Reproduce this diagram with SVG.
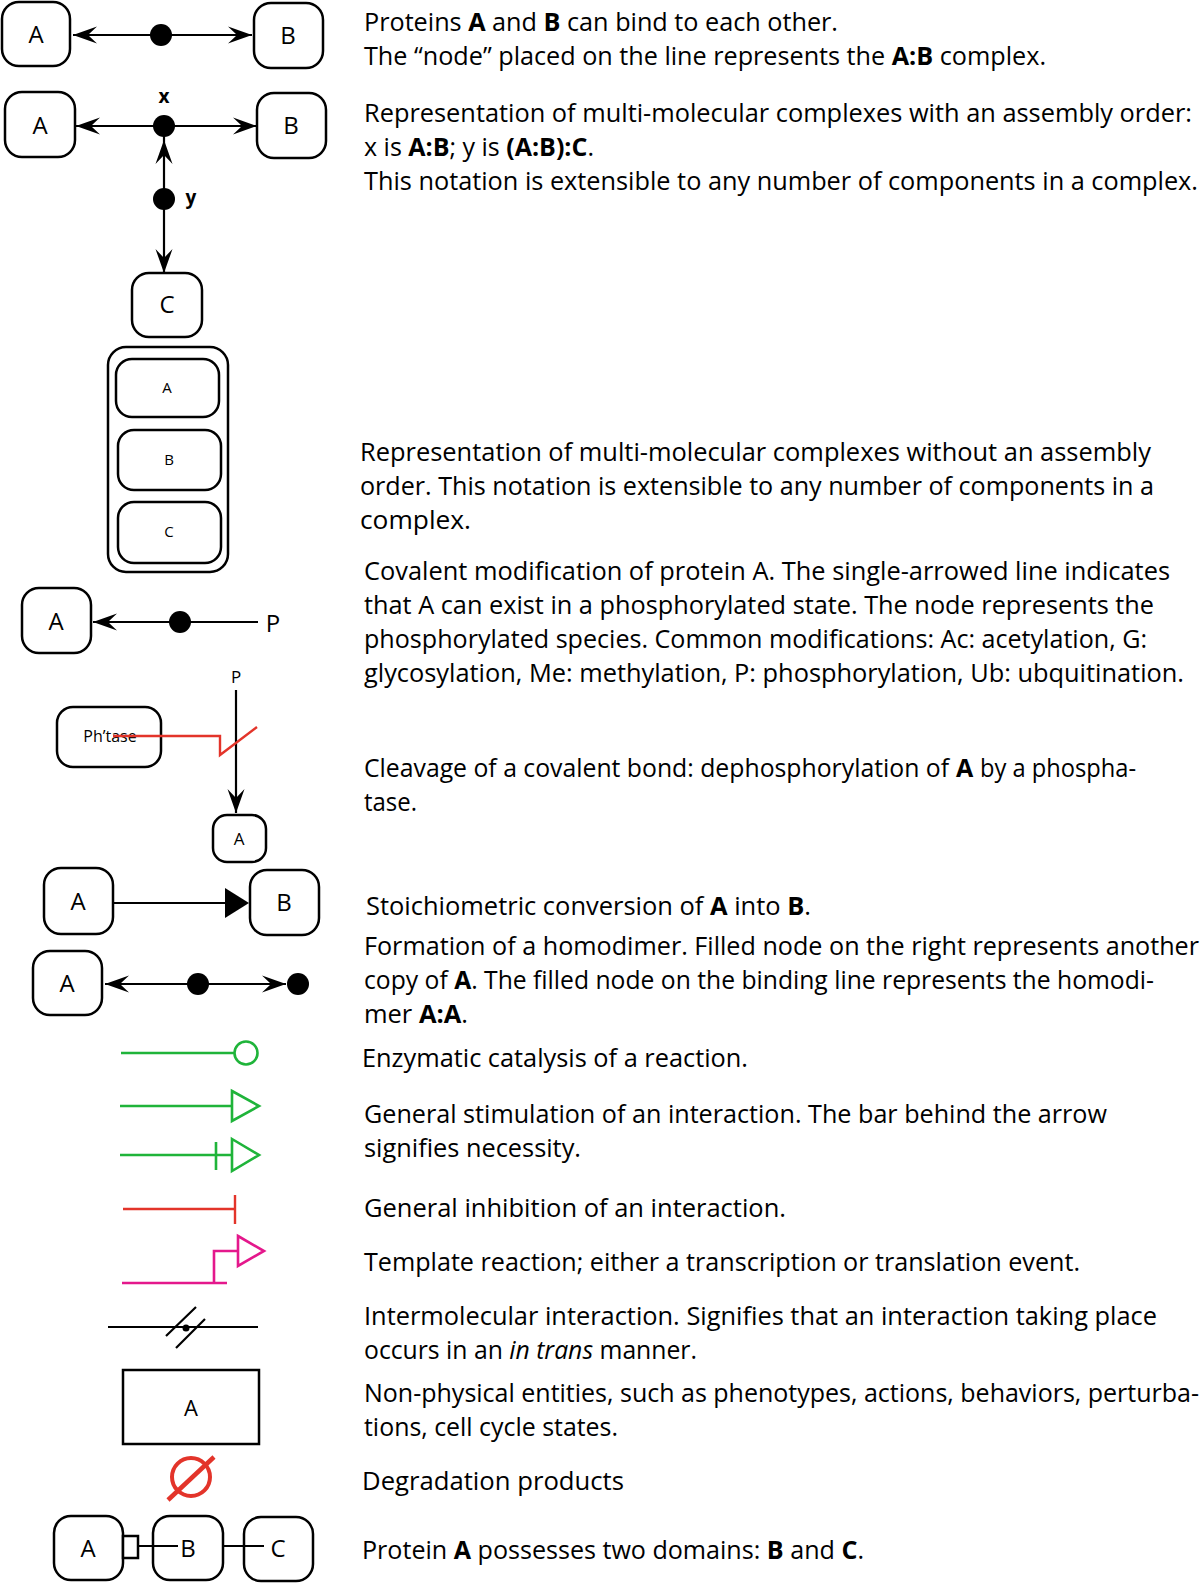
<svg xmlns="http://www.w3.org/2000/svg" width="1200" height="1583" viewBox="0 0 1200 1583">
<style>
.bx{fill:#fff;stroke:#000;stroke-width:2.5}
.ln{fill:none;stroke:#000;stroke-width:2.2}
.g{fill:none;stroke:#1fb43a;stroke-width:2.6}
.r{fill:none;stroke:#e3342a;stroke-width:2.4}
.m{fill:none;stroke:#e4188c;stroke-width:2.6}
.dot{fill:#000}
.lab{font-family:"Open Sans","Noto Sans",sans-serif;font-size:24px;fill:#000;text-anchor:middle}
.sm{font-family:"Open Sans","Noto Sans",sans-serif;font-size:15px;fill:#000;text-anchor:middle}
.t{font-family:"Open Sans","Noto Sans",sans-serif;font-size:25px;fill:#000}
.b{font-weight:700}
.i{font-style:italic}
</style>
<defs>
<marker id="arr" viewBox="-26 -10 28 20" refX="0" refY="0" markerWidth="28" markerHeight="20" markerUnits="userSpaceOnUse" orient="auto-start-reverse">
<path d="M0,0 L-24,-8.5 L-15,0 L-24,8.5 Z" fill="#000"/>
</marker>
</defs>

<g id="n-binding">
<rect class="bx" x="2" y="2" width="68" height="64" rx="17"/>
<text class="lab" x="36" y="43">A</text>
<rect class="bx" x="254" y="3" width="69" height="65" rx="17"/>
<text class="lab" x="288" y="44">B</text>
<circle class="dot" cx="161" cy="35" r="11"/>
</g>

<g id="n-ordered">
<rect class="bx" x="5" y="92" width="70" height="65" rx="17"/>
<text class="lab" x="40" y="134">A</text>
<rect class="bx" x="257" y="93" width="69" height="65" rx="17"/>
<text class="lab" x="291" y="134">B</text>
<circle class="dot" cx="164" cy="126" r="11"/>
<text class="lab b" x="164" y="103" style="font-size:19px">x</text>
<circle class="dot" cx="164" cy="199" r="11"/>
<text class="lab b" x="191" y="204" style="font-size:19px">y</text>
<rect class="bx" x="132" y="273" width="70" height="64" rx="17"/>
<text class="lab" x="167" y="313">C</text>
</g>

<g id="n-unordered">
<rect class="bx" x="108" y="347" width="120" height="225" rx="18"/>
<rect class="bx" x="116" y="359" width="103" height="58" rx="16"/>
<text class="sm" x="167" y="393">A</text>
<rect class="bx" x="118" y="430" width="103" height="60" rx="16"/>
<text class="sm" x="169" y="465">B</text>
<rect class="bx" x="118" y="502" width="103" height="61" rx="16"/>
<text class="sm" x="169" y="537">C</text>
</g>

<g id="n-phospho">
<rect class="bx" x="22" y="588" width="69" height="65" rx="17"/>
<text class="lab" x="56" y="630">A</text>
<circle class="dot" cx="180" cy="622" r="11"/>
<text class="lab" x="273" y="632">P</text>
</g>

<g id="n-phosphatase">
<text class="sm" x="236" y="683" style="font-size:17px">P</text>
<rect class="bx" x="57" y="707" width="104" height="60" rx="16"/>
<text class="sm" x="110" y="742" style="font-size:16px">Ph’tase</text>
<rect class="bx" x="213" y="815" width="53" height="47" rx="14"/>
<text class="sm" x="239" y="845" style="font-size:17px">A</text>
</g>

<g id="n-conversion">
<rect class="bx" x="44" y="868" width="69" height="66" rx="17"/>
<text class="lab" x="78" y="910">A</text>
<rect class="bx" x="250" y="870" width="69" height="65" rx="17"/>
<text class="lab" x="284" y="911">B</text>
</g>

<g id="n-homodimer">
<rect class="bx" x="33" y="951" width="69" height="64" rx="17"/>
<text class="lab" x="67" y="992">A</text>
<circle class="dot" cx="198" cy="984" r="11"/>
<circle class="dot" cx="298" cy="984" r="11"/>
</g>

<g id="n-catalysis">
<path class="g" d="M121,1053 L234,1053"/>
<circle cx="246" cy="1053" r="11.5" fill="#fff" stroke="#1fb43a" stroke-width="2.6"/>
</g>

<g id="n-stimulation">
<path class="g" d="M120,1106 L232,1106"/>
<path class="g" d="M232,1091 L259,1106 L232,1121 Z"/>
<path class="g" d="M120,1155 L232,1155 M216,1142 L216,1170"/>
<path class="g" d="M232,1139 L259,1155 L232,1171 Z"/>
</g>

<g id="n-inhibition">
<path class="r" d="M123,1209 L235,1209 M235,1195 L235,1224"/>
</g>

<g id="n-template">
<path class="m" d="M122,1283 L227,1283 M214,1283 L214,1251 L238,1251"/>
<path class="m" d="M238,1236 L264,1251 L238,1266 Z"/>
</g>

<g id="n-intermolecular">
<path class="ln" d="M108,1327 L258,1327 M166,1336 L196,1307 M176,1348 L205,1319"/>
<circle class="dot" cx="186" cy="1328" r="3.5"/>
</g>

<g id="n-nonphysical">
<rect x="123" y="1370" width="136" height="74" fill="#fff" stroke="#000" stroke-width="2.5"/>
<text class="lab" x="191" y="1416" style="font-size:22px">A</text>
</g>

<g id="n-degradation">
<circle cx="191" cy="1477" r="19" fill="none" stroke="#e3342a" stroke-width="4"/>
<path d="M168,1500 L214,1457" stroke="#e3342a" stroke-width="4.5" fill="none"/>
</g>

<g id="n-domains">
<rect class="bx" x="54" y="1516" width="69" height="64" rx="17"/>
<text class="lab" x="88" y="1557">A</text>
<rect class="bx" x="123" y="1536" width="15" height="22" rx="0"/>
<rect class="bx" x="153" y="1516" width="70" height="64" rx="17"/>
<rect class="bx" x="244" y="1517" width="69" height="64" rx="17"/>
<path class="ln" d="M138,1546 L178,1546 M223,1546 L264,1546"/>
<text class="lab" x="188" y="1557">B</text>
<text class="lab" x="278" y="1557">C</text>
</g>

<g id="connectors">
<path class="ln" d="M73,35 L252,35" marker-start="url(#arr)" marker-end="url(#arr)"/>
<path class="ln" d="M76,126 L257,126" marker-start="url(#arr)" marker-end="url(#arr)"/>
<path class="ln" d="M164,126 L164,140"/>
<path class="ln" d="M164,140 L164,273" marker-start="url(#arr)" marker-end="url(#arr)"/>
<path class="ln" d="M93,622 L258,622" marker-start="url(#arr)"/>
<path class="ln" d="M236,690 L236,813" marker-end="url(#arr)"/>
<path class="r" d="M113,736 L220,736 L220,755 L257,727"/>
<path class="ln" d="M113,903 L227,903"/>
<path d="M225,888 L249,903 L225,918 Z" fill="#000"/>
<path class="ln" d="M105,984 L286,984" marker-start="url(#arr)" marker-end="url(#arr)"/>
</g>

<g id="texts">
<text class="t" x="364" y="31" textLength="474" lengthAdjust="spacingAndGlyphs">Proteins <tspan class="b">A</tspan> and <tspan class="b">B</tspan> can bind to each other.</text>
<text class="t" x="364" y="65" textLength="682" lengthAdjust="spacingAndGlyphs">The “node” placed on the line represents the <tspan class="b">A:B</tspan> complex.</text>
<text class="t" x="364" y="122" textLength="828" lengthAdjust="spacingAndGlyphs">Representation of multi-molecular complexes with an assembly order:</text>
<text class="t" x="364" y="156" textLength="230" lengthAdjust="spacingAndGlyphs">x is <tspan class="b">A:B</tspan>; y is <tspan class="b">(A:B):C</tspan>.</text>
<text class="t" x="364" y="190" textLength="834" lengthAdjust="spacingAndGlyphs">This notation is extensible to any number of components in a complex.</text>
<text class="t" x="360" y="461" textLength="791" lengthAdjust="spacingAndGlyphs">Representation of multi-molecular complexes without an assembly</text>
<text class="t" x="360" y="495" textLength="794" lengthAdjust="spacingAndGlyphs">order. This notation is extensible to any number of components in a</text>
<text class="t" x="360" y="529" textLength="111" lengthAdjust="spacingAndGlyphs">complex.</text>
<text class="t" x="364" y="580" textLength="806" lengthAdjust="spacingAndGlyphs">Covalent modification of protein A. The single-arrowed line indicates</text>
<text class="t" x="364" y="614" textLength="790" lengthAdjust="spacingAndGlyphs">that A can exist in a phosphorylated state.  The node represents the</text>
<text class="t" x="364" y="648" textLength="783" lengthAdjust="spacingAndGlyphs">phosphorylated species. Common modifications: Ac: acetylation, G:</text>
<text class="t" x="364" y="682" textLength="820" lengthAdjust="spacingAndGlyphs">glycosylation, Me: methylation, P: phosphorylation,  Ub: ubquitination.</text>
<text class="t" x="364" y="777" textLength="585" lengthAdjust="spacingAndGlyphs">Cleavage of a covalent bond: dephosphorylation of</text>
<text class="t b" x="956" y="777">A</text>
<text class="t" x="980" y="777" textLength="156" lengthAdjust="spacingAndGlyphs">by a phospha-</text>
<text class="t" x="364" y="811" textLength="53" lengthAdjust="spacingAndGlyphs">tase.</text>
<text class="t" x="366" y="915" textLength="445" lengthAdjust="spacingAndGlyphs">Stoichiometric conversion of <tspan class="b">A</tspan> into <tspan class="b">B</tspan>.</text>
<text class="t" x="364" y="955" textLength="835" lengthAdjust="spacingAndGlyphs">Formation of a homodimer. Filled node on the right represents another</text>
<text class="t" x="364" y="989" textLength="790" lengthAdjust="spacingAndGlyphs">copy of <tspan class="b">A</tspan>. The filled node on the binding line represents the homodi-</text>
<text class="t" x="364" y="1023" textLength="104" lengthAdjust="spacingAndGlyphs">mer <tspan class="b">A:A</tspan>.</text>
<text class="t" x="362" y="1067" textLength="386" lengthAdjust="spacingAndGlyphs">Enzymatic catalysis of a reaction.</text>
<text class="t" x="364" y="1123" textLength="743" lengthAdjust="spacingAndGlyphs">General stimulation of an interaction. The bar behind the arrow</text>
<text class="t" x="364" y="1157" textLength="217" lengthAdjust="spacingAndGlyphs">signifies necessity.</text>
<text class="t" x="364" y="1217" textLength="422" lengthAdjust="spacingAndGlyphs">General inhibition of an interaction.</text>
<text class="t" x="364" y="1271" textLength="716" lengthAdjust="spacingAndGlyphs">Template reaction; either a transcription or translation event.</text>
<text class="t" x="364" y="1325" textLength="793" lengthAdjust="spacingAndGlyphs">Intermolecular interaction. Signifies that an interaction taking place</text>
<text class="t" x="364" y="1359" textLength="333" lengthAdjust="spacingAndGlyphs">occurs in an <tspan class="i">in trans</tspan> manner.</text>
<text class="t" x="364" y="1402" textLength="835" lengthAdjust="spacingAndGlyphs">Non-physical entities, such as phenotypes, actions, behaviors, perturba-</text>
<text class="t" x="364" y="1436" textLength="254" lengthAdjust="spacingAndGlyphs">tions, cell cycle states.</text>
<text class="t" x="362" y="1490" textLength="262" lengthAdjust="spacingAndGlyphs">Degradation products</text>
<text class="t" x="362" y="1559" textLength="502" lengthAdjust="spacingAndGlyphs">Protein <tspan class="b">A</tspan> possesses two domains: <tspan class="b">B</tspan> and <tspan class="b">C</tspan>.</text>
</g>
</svg>
